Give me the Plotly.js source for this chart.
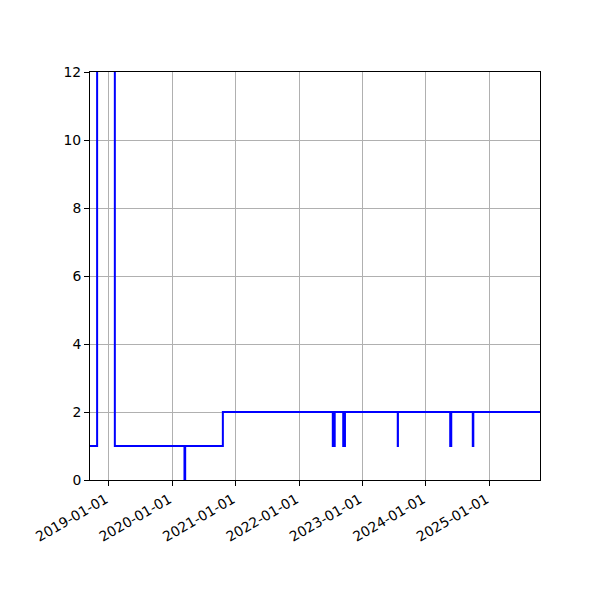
<!DOCTYPE html>
<html>
<head>
<meta charset="utf-8">
<script src="https://cdn.plot.ly/plotly-3.0.1.min.js"></script>
<style>html,body{margin:0;padding:0;background:#fff;}#chart{width:600px;height:600px;}</style>
</head>
<body>
<div id="chart"></div>
<script>
// Step series: date at which the value starts, and the value held from that date
const dates = [
  '2018-09-15', '2018-10-26', '2019-02-05',
  '2020-03-12', '2020-03-16', '2020-10-19',
  '2022-07-14', '2022-07-25', '2022-09-12', '2022-09-22',
  '2023-07-23', '2023-07-24',
  '2024-05-20', '2024-05-26',
  '2024-09-27', '2024-09-30',
  '2025-10-19'
];
const values = [
  1, 30, 1,
  0, 1, 2,
  1, 2, 1, 2,
  1, 2,
  1, 2,
  1, 2,
  2
];
const xRange = ['2018-09-15', '2025-10-19'];
const yRange = [0, 12];

const trace = {
  x: dates, y: values, type: 'scatter', mode: 'lines',
  line: {shape: 'hv', color: '#0000ff', width: 2},
  hoverinfo: 'none'
};

const axisCommon = {
  showline: true, linecolor: '#000', linewidth: 1, mirror: true,
  ticks: 'outside', ticklen: 5, tickwidth: 1, tickcolor: '#000',
  showgrid: true, gridcolor: '#b0b0b0', gridwidth: 1,
  zeroline: false,
  tickfont: {family: 'DejaVu Sans', size: 13.9, color: '#000'}
};

const layout = {
  width: 600, height: 600,
  margin: {l: 90, r: 60, t: 72, b: 120},
  paper_bgcolor: '#fff', plot_bgcolor: '#fff',
  showlegend: false,
  xaxis: Object.assign({}, axisCommon, {
    type: 'date', range: xRange,
    tick0: '2019-01-01', dtick: 'M12', tickformat: '%Y-%m-%d',
    tickangle: -30, ticklabelshift: -3
  }),
  yaxis: Object.assign({}, axisCommon, {
    range: yRange, tick0: 0, dtick: 2
  })
};

Plotly.newPlot('chart', [trace], layout, {staticPlot: true, displayModeBar: false});
</script>
</body>
</html>
